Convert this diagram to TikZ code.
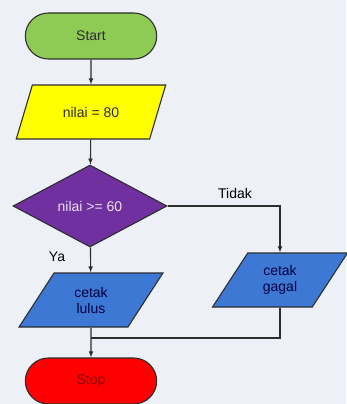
\documentclass[tikz,border=0pt]{standalone}
\usepackage{fontspec}
\setmainfont{Liberation Sans}
\usetikzlibrary{shapes.geometric,shapes.misc}

\definecolor{latar}{HTML}{EEF0F7}
\definecolor{garis}{HTML}{2E2E2E}
\definecolor{hijau}{HTML}{8DCB55}
\definecolor{kuning}{HTML}{FFFF00}
\definecolor{ungu}{HTML}{7030A0}
\definecolor{biru}{HTML}{3C78D4}
\definecolor{merah}{HTML}{FF0000}

\begin{document}
\begin{tikzpicture}[
x=1pt, y=-1pt,
every node/.style={
font=\fontsize{14}{16}\selectfont,
align=center
},
kotak/.style={
draw=garis,
line width=1.1pt
},
terminal/.style={
kotak,
rounded rectangle,
minimum width=138pt,
minimum height=46pt
},
data/.style={
kotak,
trapezium,
trapezium stretches=true,
minimum height=54pt
},
keputusan/.style={
kotak,
diamond,
aspect=1.9,
minimum width=154pt,
minimum height=82pt
}
]

\fill[latar] (0,0) rectangle (346,404);
\useasboundingbox (0,0) rectangle (346,404);

\node[terminal, fill=hijau, text=garis] (Start) at (91,36)
{Start};

\node[data, fill=kuning, text=garis, minimum width=150pt,
trapezium left angle=63, trapezium right angle=117] (Nilai) at (91,112)
{nilai = 80};

\node[keputusan, fill=ungu, text=ungu!15] (Cek) at (90,206)
{nilai >= 60};

\node[data, fill=biru, text=blue!25!black, minimum width=145pt,
trapezium left angle=60, trapezium right angle=120] (Lulus) at (91,300)
{cetak\\lulus};

\node[data, fill=biru, text=blue!25!black, minimum width=136pt,
trapezium left angle=58, trapezium right angle=122] (Gagal) at (280,280)
{cetak\\gagal};

\node[terminal, fill=merah, text=red!55!black] (Stop) at (91,381)
{Stop};

\node (Tidak) at (235,193)
{Tidak};

\node (Ya) at (57,257)
{Ya};

\coordinate (Gabung) at (91,338);

\draw[-latex, garis, line width=1.1pt] (Start) -- (Nilai);
\draw[-latex, garis, line width=1.1pt] (Nilai) -- (Cek);
\draw[-latex, garis, line width=1.1pt] (Cek) -- (Lulus);
\draw[-latex, garis, line width=1.1pt] (Cek.east) -| (Gagal.north);
\draw[-latex, garis, line width=1.1pt] (Lulus) -- (Stop);
\draw[garis, line width=1.1pt] (Gagal.south) |- (Gabung);

\end{tikzpicture}
\end{document}
